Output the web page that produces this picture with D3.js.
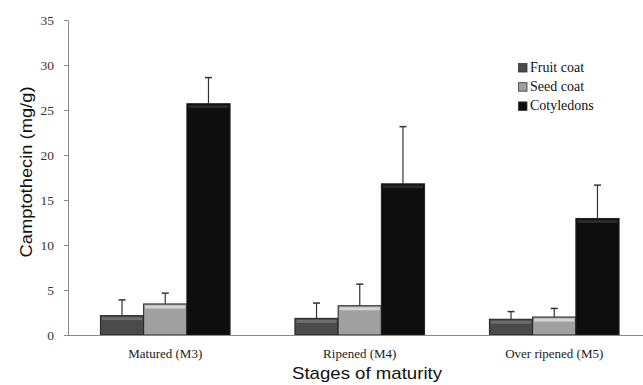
<!DOCTYPE html>
<html><head><meta charset="utf-8">
<script src="https://cdn.jsdelivr.net/npm/d3@7/dist/d3.min.js"></script>
<style>body{margin:0;background:#fff}svg{display:block}</style>
</head><body>
<svg id="c" width="643" height="385"></svg>
<script>
const categories = ["Matured (M3)", "Ripened (M4)", "Over ripened (M5)"];
const seriesNames = ["Fruit coat", "Seed coat", "Cotyledons"];
const fruitCoat = [2.15, 1.85, 1.75];
const seedCoat = [3.45, 3.25, 2.0];
const cotyledons = [25.7, 16.8, 12.95];
const fruitCoatErr = [1.75, 1.7, 0.85];
const seedCoatErr = [1.2, 2.4, 0.95];
const cotyledonsErr = [2.9, 6.35, 3.7];
const yTicks = [0, 5, 10, 15, 20, 25, 30, 35];

const values = [fruitCoat, seedCoat, cotyledons];
const errs = [fruitCoatErr, seedCoatErr, cotyledonsErr];
const fills = ["#4a4a4a", "#a0a0a0", "#0e0e0e"];
const highlights = ["#6e6e6e", "#d4d4d4", "#2a2a2a"];
const SERIF = "'Liberation Serif', 'Times New Roman', serif";
const SANS = "'Liberation Sans', Arial, sans-serif";

const svg = d3.select("#c");
const mLeft = 68, mRight = 651.5, mTop = 20, mBottom = 335;
const y = d3.scaleLinear().domain([0, 35]).range([mBottom, mTop]);
const x0 = d3.scaleBand().domain(categories).range([mLeft, mRight]).paddingInner(1/3).paddingOuter(1/6);
const x1 = d3.scaleBand().domain(seriesNames).range([0, x0.bandwidth()]);

// y axis
const ya = svg.append("g").attr("transform", `translate(${mLeft},0)`)
  .call(d3.axisLeft(y).tickValues(yTicks).tickSize(4).tickPadding(10));
ya.selectAll("path,line").attr("stroke", "#8a8a8a");
ya.select(".domain").attr("d", `M-4,${mTop + 0.5}H0.5V${mBottom + 0.5}`);
ya.selectAll("text").style("font-family", SERIF).style("font-size", "13.5px").attr("fill", "#333");

// bars
seriesNames.forEach((s, si) => {
  const g = svg.append("g");
  categories.forEach((c, ci) => {
    const v = values[si][ci];
    const bx = x0(c) + x1(s), bw = x1.bandwidth();
    g.append("rect").attr("x", bx).attr("y", y(v)).attr("width", bw).attr("height", y(0) - y(v))
      .attr("fill", fills[si]).attr("stroke", "#222").attr("stroke-width", 1);
    g.append("rect").attr("x", bx + 1.5).attr("y", y(v) + 1.5).attr("width", bw - 3).attr("height", 3)
      .attr("fill", highlights[si]);
    const cx = bx + bw / 2, e = v + errs[si][ci];
    g.append("line").attr("x1", cx).attr("x2", cx).attr("y1", y(v)).attr("y2", y(e)).attr("stroke", "#333").attr("stroke-width", 1.2);
    g.append("line").attr("x1", cx - 3.5).attr("x2", cx + 3.5).attr("y1", y(e)).attr("y2", y(e)).attr("stroke", "#333").attr("stroke-width", 1.5);
  });
});

// x axis
const xa = svg.append("g").attr("transform", `translate(0,${mBottom})`)
  .call(d3.axisBottom(x0).tickSize(0).tickPadding(14));
xa.select(".domain").attr("stroke", "#8a8a8a").attr("d", `M${mLeft},0.5H643`);
xa.selectAll("text").style("font-family", SERIF).style("font-size", "13px").attr("fill", "#222");

// axis titles
svg.append("text").attr("x", 367).attr("y", 378.5).attr("text-anchor", "middle")
  .style("font-family", SANS).style("font-size", "17px").attr("fill", "#111")
  .attr("textLength", 150).attr("lengthAdjust", "spacingAndGlyphs").text("Stages of maturity");
svg.append("text").attr("transform", "translate(32,172) rotate(-90)").attr("text-anchor", "middle")
  .style("font-family", SANS).style("font-size", "17px").attr("fill", "#111")
  .attr("textLength", 171).attr("lengthAdjust", "spacingAndGlyphs").text("Camptothecin (mg/g)");

// legend
const lg = svg.append("g").attr("transform", "translate(518,72)");
seriesNames.forEach((s, i) => {
  const r = lg.append("g").attr("transform", `translate(0,${i * 19.2})`);
  r.append("rect").attr("x", 0.5).attr("y", -8.5).attr("width", 8.5).attr("height", 8.5).attr("fill", fills[i]).attr("stroke", "#333").attr("stroke-width", 0.8);
  r.append("text").attr("x", 12).attr("y", 0).style("font-family", SERIF)
    .style("font-size", "14px").attr("fill", "#111").text(s);
});
</script>
</body></html>
